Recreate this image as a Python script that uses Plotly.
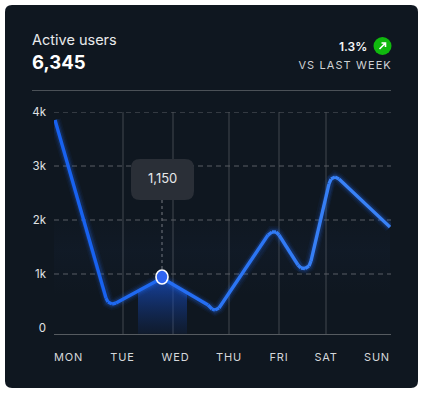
import plotly.graph_objects as go

W, H = 423, 393

# data
days = ["MON", "TUE", "WED", "THU", "FRI", "SAT", "SUN"]
day_positions = [14.5, 68.5, 121.5, 175, 225, 272, 323]
grid_positions = [69, 119, 175, 225, 272]
y_ticks = [0, 1000, 2000, 3000, 4000]
y_labels = ["0", "1k", "2k", "3k", "4k"]
dash_levels = [1000, 2000, 3000, 4000]

line_x = [1, 52, 54, 58, 62, 108, 154, 158, 161, 165, 214, 218, 222, 225, 244, 247, 251, 255, 257, 275, 277, 281, 285, 336]
line_y = [3852, 556, 481, 444, 463, 926, 426, 352, 333, 370, 1722, 1778, 1778, 1722, 1167, 1111, 1102, 1148, 1241, 2667, 2759, 2796, 2759, 1870]

peak_x = 108
peak_y = 944
peak_label = "1,150"

CARD = "#0f1720"
fig = go.Figure()

def px(x): return x / W
def py(y): return 1 - y / H

def rrect(x0, y0, x1, y1, r):
    a, b, c, d = px(x0), px(x1), py(y0), py(y1)
    rx, ry = r / W, r / H
    return (f"M {a+rx} {c} L {b-rx} {c} Q {b} {c} {b} {c-ry} L {b} {d+ry} Q {b} {d} {b-rx} {d} "
            f"L {a+rx} {d} Q {a} {d} {a} {d+ry} L {a} {c-ry} Q {a} {c} {a+rx} {c} Z")

shapes = [
    dict(type="path", xref="paper", yref="paper", path=rrect(5, 5, 418, 388, 7), fillcolor=CARD, line_width=0, layer="below"),
    dict(type="line", xref="paper", yref="paper", x0=px(32), x1=px(391), y0=py(90.5), y1=py(90.5), line=dict(color="#4b5157", width=1), layer="below"),
    dict(type="path", xref="paper", yref="paper", path=rrect(131, 159, 194, 200, 9), fillcolor="#2a2f37", line_width=0, layer="above"),
    dict(type="circle", xref="paper", yref="paper", x0=px(373.5), x1=px(391.5), y0=py(37), y1=py(55), fillcolor="#10b90e", line_width=0),
    dict(type="path", xref="paper", yref="paper", path=f"M {px(379.5)} {py(49)} L {px(385.5)} {py(43)} M {px(381.5)} {py(43)} L {px(385.5)} {py(43)} L {px(385.5)} {py(47)}",
         line=dict(color="white", width=1.6)),
]
for x in grid_positions:
    shapes.append(dict(type="line", xref="x", yref="paper", x0=x, x1=x, y0=py(334), y1=py(112), line=dict(color="#43494f", width=1), layer="below"))
for y in dash_levels:
    shapes.append(dict(type="line", xref="x", yref="y", x0=0, x1=337, y0=y, y1=y, line=dict(color="#5a5f65", width=1, dash="5px,4px"), layer="below"))
shapes.append(dict(type="line", xref="paper", yref="paper", x0=px(54), x1=px(391), y0=py(334.5), y1=py(334.5), line=dict(color="#565b60", width=1.2), layer="below"))
shapes.append(dict(type="line", xref="x", yref="paper", x0=peak_x, x1=peak_x, y0=py(200), y1=py(276), line=dict(color="#777b80", width=1, dash="3px,3px"), layer="below"))
shapes.append(dict(type="circle", xref="x", yref="y", xsizemode="pixel", ysizemode="pixel", xanchor=peak_x, yanchor=peak_y,
                   x0=-6, x1=6, y0=-7, y1=7, fillcolor="#2f64f2", line=dict(color="white", width=1.6), layer="above"))

# faint band
fig.add_trace(go.Scatter(x=[0, 336, 336, 0], y=[2000, 2000, 600, 600], fill="toself", mode="none",
                         fillgradient=dict(type="vertical", colorscale=[[0, "rgba(40,70,130,0)"], [0.6, "rgba(40,70,130,0.06)"], [1, "rgba(40,70,130,0.015)"]]),
                         hoverinfo="skip", showlegend=False))
# highlighted column under the peak
col_x = [84, 108, 133, 133, 84]
col_y = [685, 926, 650, -105, -105]
fig.add_trace(go.Scatter(x=col_x, y=col_y, fill="toself", mode="none",
                         fillgradient=dict(type="vertical", colorscale=[[0, "rgba(20,60,150,0.12)"], [1, "rgba(25,85,215,0.7)"]]),
                         hoverinfo="skip", showlegend=False))

# glow, then the line coloured by segment (deeper blue on the left, lighter on the right)
for w, a in [(12, 0.05), (9, 0.08), (6.5, 0.14)]:
    fig.add_trace(go.Scatter(x=line_x, y=line_y, mode="lines", line=dict(color=f"rgba(40,110,255,{a})", width=w),
                             hoverinfo="skip", showlegend=False))
left, right = (24, 98, 240), (63, 136, 248)
n = len(line_x) - 1
for i in range(n):
    t = line_x[i] / 336
    c = tuple(round(left[k] + (right[k] - left[k]) * t) for k in range(3))
    fig.add_trace(go.Scatter(x=line_x[i:i + 2], y=line_y[i:i + 2], mode="lines",
                             line=dict(color=f"rgb{c}", width=3.4),
                             hoverinfo="skip", showlegend=False))

def text(x, y, s, size, color="#f1f3f5", anchor="left", weight=400):
    fig.add_annotation(xref="paper", yref="paper", x=px(x), y=py(y), text=s, showarrow=False, xanchor=anchor, yanchor="middle",
                       font=dict(family="Inter", size=size, color=color, weight=weight))

text(30, 39, "Active users", 14.5, "#e8eaec")
text(30, 62, "6,345", 18.5, "#ffffff", weight=700)
text(369, 46, "1.3%", 12, "#f5f6f7", "right", 600)
text(388, 64.5, "VS LAST WEEK", 11, "#cfd2d5", "right")
text(162, 178.5, peak_label, 13, "#e6e8ea", "center")

fig.update_layout(
    width=W, height=H, margin=dict(l=0, r=0, t=0, b=0, autoexpand=False), paper_bgcolor="white", plot_bgcolor="rgba(0,0,0,0)",
    showlegend=False, shapes=shapes, hovermode=False,
    xaxis=dict(domain=[54 / W, 391 / W], range=[0, 337], tickmode="array", tickvals=day_positions, ticktext=days, showgrid=False, automargin=False,
               zeroline=False, showline=False, ticks="", tickfont=dict(family="Inter", size=11, color="#d5d8db"), ticklabelstandoff=15),
    yaxis=dict(domain=[1 - 334 / H, 1 - 112 / H], range=[-111, 4000], tickmode="array", tickvals=y_ticks, ticktext=y_labels, showgrid=False, automargin=False,
               zeroline=False, showline=False, ticks="", tickfont=dict(family="Inter", size=11.5, color="#e0e3e5"), ticklabelstandoff=7),
)
spacing_js = """
document.body.style.margin='0';
document.querySelectorAll('.xtick text').forEach(function(t){t.style.letterSpacing='0.8px';});
document.querySelectorAll('.annotation-text').forEach(function(t){if(t.textContent==='VS LAST WEEK'){t.style.letterSpacing='1.1px';}});
"""
fig.write_html("out.html", config=dict(displayModeBar=False), post_script=spacing_js)
